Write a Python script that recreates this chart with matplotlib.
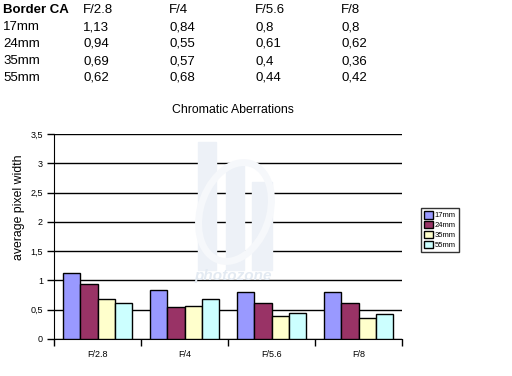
import numpy as np
import matplotlib.pyplot as plt
from matplotlib.patches import Rectangle, Ellipse

plt.rcParams['font.family'] = ['Liberation Sans', 'DejaVu Sans']

apertures = ["F/2.8", "F/4", "F/5.6", "F/8"]
lenses = ["17mm", "24mm", "35mm", "55mm"]
ca_17 = [1.13, 0.84, 0.8, 0.8]
ca_24 = [0.94, 0.55, 0.61, 0.62]
ca_35 = [0.69, 0.57, 0.4, 0.36]
ca_55 = [0.62, 0.68, 0.44, 0.42]
table_text = [["1,13", "0,84", "0,8", "0,8"],
              ["0,94", "0,55", "0,61", "0,62"],
              ["0,69", "0,57", "0,4", "0,36"],
              ["0,62", "0,68", "0,44", "0,42"]]
colors = ["#9999FF", "#993366", "#FFFFCC", "#CCFFFF"]

W, H = 512, 376
fig = plt.figure(figsize=(W / 100, H / 100), dpi=100)

# table at the top
col_x = [3, 83, 169, 255, 341]
row_y = [10, 27, 44, 61, 78]
fs = 9.5
fig.text(col_x[0] / W, 1 - row_y[0] / H, "Border CA", fontsize=fs, weight="bold", va="center")
for j, a in enumerate(apertures):
    fig.text(col_x[j + 1] / W, 1 - row_y[0] / H, a, fontsize=fs, va="center")
for i, lens in enumerate(lenses):
    fig.text(col_x[0] / W, 1 - row_y[i + 1] / H, lens, fontsize=fs, va="center")
    for j in range(4):
        fig.text(col_x[j + 1] / W, 1 - row_y[i + 1] / H, table_text[i][j], fontsize=fs, va="center")

# faint watermark
wm = "#edf1f7"
fig.patches.append(Rectangle((198 / W, 1 - 270 / H), 18 / W, 128 / H, transform=fig.transFigure, color=wm, zorder=0))
fig.patches.append(Rectangle((226 / W, 1 - 270 / H), 18 / W, 105 / H, transform=fig.transFigure, color=wm, zorder=0))
fig.patches.append(Rectangle((252 / W, 1 - 270 / H), 20 / W, 88 / H, transform=fig.transFigure, color=wm, zorder=0))
fig.patches.append(Ellipse((235 / W, 1 - 212 / H), 70 / W, 100 / H, transform=fig.transFigure,
                           fill=False, edgecolor="#f6f8fb", linewidth=5, angle=-10, zorder=0))
fig.text(233 / W, 1 - 276 / H, "photozone", fontsize=11, color="#e3eaf2", style="italic",
         weight="bold", ha="center", va="center", zorder=0)

fig.text(233 / W, 1 - 110 / H, "Chromatic Aberrations", fontsize=8.8, ha="center", va="center")
fig.text(19 / W, 1 - 207 / H, "average pixel width", fontsize=8.8, rotation=90, ha="center", va="center")

ax = fig.add_axes([54 / W, 1 - 339 / H, 348 / W, 205 / H])
ax.patch.set_alpha(0)
x = np.arange(len(apertures))
bw = 0.2
for k, (vals, c, lab) in enumerate(zip([ca_17, ca_24, ca_35, ca_55], colors, lenses)):
    ax.bar(x + (k - 1.5) * bw, vals, bw, color=c, edgecolor="black", linewidth=1, label=lab, zorder=3)

ax.set_xlim(-0.5, 3.5)
ax.set_ylim(0, 3.5)
ax.set_yticks(np.arange(0, 3.51, 0.5))
ax.set_yticklabels(["0", "0,5", "1", "1,5", "2", "2,5", "3", "3,5"], fontsize=6.5)
ax.yaxis.grid(True, color="black", linewidth=1)
ax.set_axisbelow(True)
ax.set_xticks(x)
ax.set_xticklabels(apertures, fontsize=6.5)
ax.tick_params(axis="x", length=0, pad=8)
ax.tick_params(axis="y", length=5, width=1, direction="out", pad=3)
ax.set_xticks(np.arange(-0.5, 3.6, 1), minor=True)
ax.tick_params(axis="x", which="minor", length=5, width=1, direction="out")
for s in ["top", "right"]:
    ax.spines[s].set_visible(False)

fig.legend(loc="center", bbox_to_anchor=(440 / W, 1 - 230 / H), fontsize=5.5, frameon=True,
           fancybox=False, edgecolor="black", handlelength=1.1, handleheight=1.1,
           handletextpad=0.3, borderpad=0.4, labelspacing=0.2, borderaxespad=0)

fig.savefig("out.png", dpi=100)
